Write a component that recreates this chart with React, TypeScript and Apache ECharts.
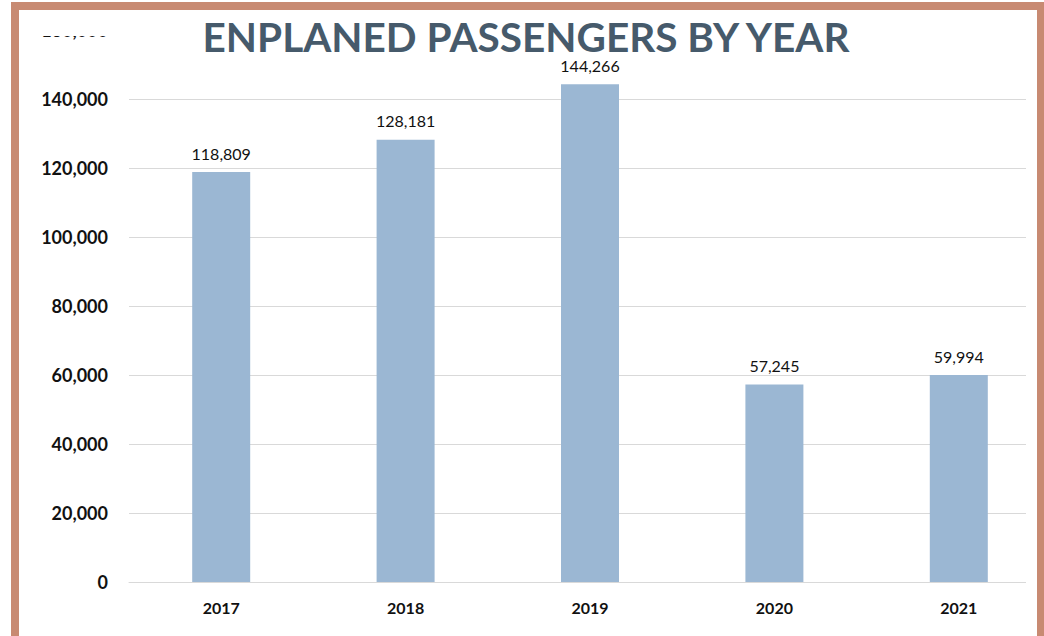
import React, { useEffect, useRef } from "react";
import * as echarts from "echarts";

const years = ["2017", "2018", "2019", "2020", "2021"];
const passengers = [118809, 128181, 144266, 57245, 59994];
const title = "ENPLANED PASSENGERS BY YEAR";

export default function App() {
  const ref = useRef<HTMLDivElement>(null);
  useEffect(() => {
    document.body.style.margin = "0";
    const chart = echarts.init(ref.current!, null, { renderer: "svg" });
    chart.setOption({
      animation: false,
      backgroundColor: "#ffffff",
      grid: { left: 129, top: 30, width: 922, height: 552, containLabel: false },
      xAxis: {
        type: "category",
        data: years,
        axisLine: { show: true, lineStyle: { color: "#D9D9D9", width: 1 } },
        axisTick: { show: false },
        axisLabel: {
          color: "#111111",
          fontFamily: "Lato",
          fontWeight: "bold",
          fontSize: 16,
          margin: 17,
        },
      },
      yAxis: {
        type: "value",
        min: 0,
        max: 160000,
        interval: 20000,
        axisLine: { show: false },
        axisTick: { show: false },
        splitLine: { lineStyle: { color: "#D9D9D9", width: 1 } },
        axisLabel: {
          color: "#111111",
          fontFamily: "Lato",
          fontWeight: "bold",
          fontSize: 18,
          margin: 21,
          formatter: (v: number) => v.toLocaleString("en-US"),
        },
      },
      series: [
        {
          type: "bar",
          data: passengers,
          barWidth: 58,
          itemStyle: { color: "#9BB7D3" },
          label: {
            show: true,
            position: "top",
            distance: 11,
            color: "#111111",
            fontFamily: "Lato",
            fontSize: 16,
            formatter: (p: any) => Number(p.value).toLocaleString("en-US"),
          },
        },
      ],
      graphic: [
        {
          type: "rect",
          z: 100,
          shape: { x: 19, y: 10, width: 1018, height: 26 },
          style: { fill: "#ffffff" },
        },
        {
          type: "rect",
          z: 100,
          shape: { x: 1026, y: 10, width: 40, height: 626 },
          style: { fill: "#ffffff" },
        },
        {
          type: "text",
          z: 110,
          x: 526,
          y: 36,
          style: {
            text: title,
            fill: "#465A6B",
            font: "bold 40.5px Lato",
            lineHeight: 30,
            textAlign: "center",
            textVerticalAlign: "middle",
          },
        },
        {
          type: "rect",
          z: 120,
          shape: { x: 15, y: 6, width: 1026, height: 700 },
          style: { fill: "none", stroke: "#C88A72", lineWidth: 8 },
        },
      ],
    });
    return () => chart.dispose();
  }, []);
  return (
    <div
      ref={ref}
      style={{ position: "fixed", left: 0, top: 0, width: 1070, height: 636 }}
    />
  );
}
